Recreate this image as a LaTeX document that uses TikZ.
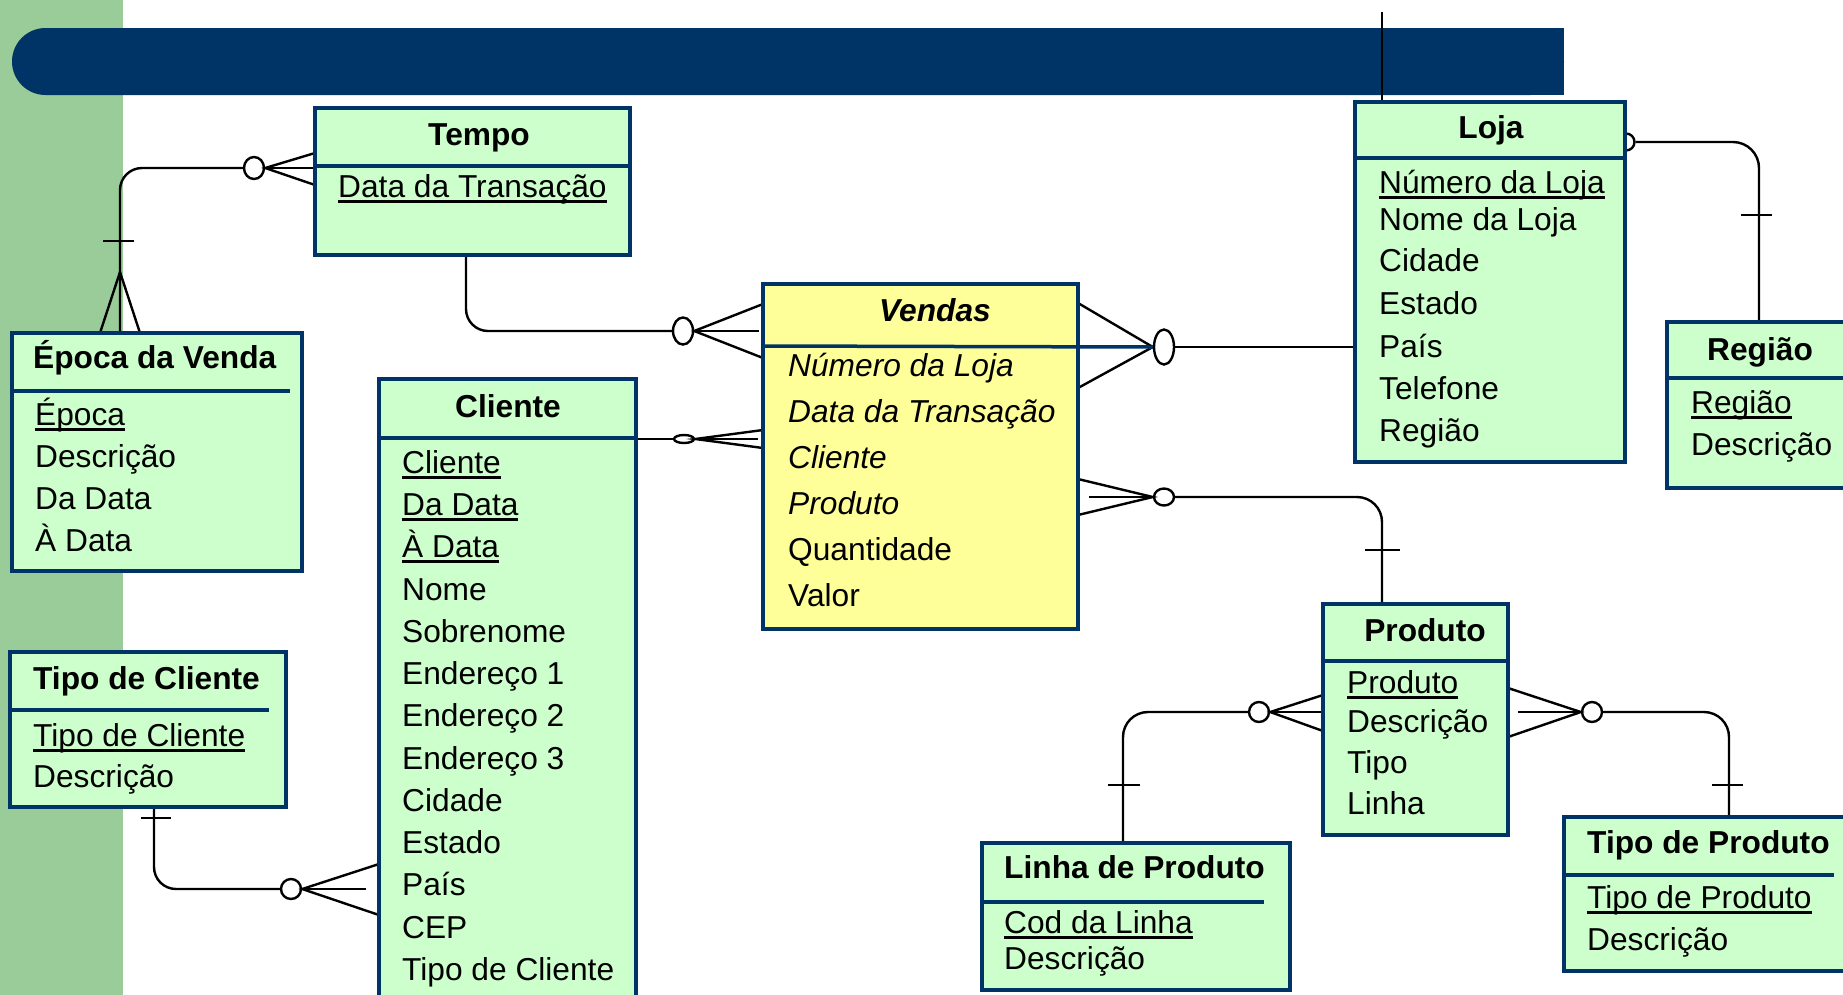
\documentclass[tikz,border=0pt]{standalone}
\usepackage{fontspec}
\setmainfont{Liberation Sans}
\usetikzlibrary{calc,shapes.geometric}

\definecolor{navy}{RGB}{0,51,102}
\definecolor{entgreen}{RGB}{204,255,204}
\definecolor{factyellow}{RGB}{255,255,153}
\definecolor{stripegreen}{RGB}{153,204,153}

\pgfdeclarelayer{backdrop}
\pgfdeclarelayer{links}
\pgfsetlayers{backdrop,links,main}

% key attribute: text with a solid rule just under the baseline
\newlength\keylen
\newcommand\keyattr[1]{\settowidth{\keylen}{#1}\rlap{\rule[-6pt]{\keylen}{3pt}}#1}

\tikzset{
  entity/.style={draw=navy, line width=3.5pt, fill=entgreen, anchor=north west, inner sep=0pt, outer sep=0pt},
  fact/.style={entity, fill=factyellow},
  divider/.style={draw=navy, line width=3.5pt},
  conn/.style={draw=black, line width=2.4pt},
  optmark/.style={ellipse, draw=black, fill=white, line width=2.4pt, inner sep=0pt},
  attr/.style={font=\fontsize{31.7}{38}\selectfont, anchor=base west, inner sep=0pt},
  iattr/.style={attr, font=\fontsize{31.7}{38}\selectfont\itshape},
  ttl/.style={font=\fontsize{31.7}{38}\selectfont\bfseries, anchor=base, inner sep=0pt},
  ttlleft/.style={ttl, anchor=base west},
}

\begin{document}
\begin{tikzpicture}[x=1pt,y=-1pt]
\useasboundingbox (0,0) rectangle (1843,994);

% side stripe and header bar
\begin{pgfonlayer}{backdrop}
\fill[stripegreen] (0,0) rectangle (123,996);
\fill[navy, rounded corners=33.5pt] (12,28) rectangle (1564,95);
\fill[navy] (1400,28) rectangle (1564,95);
\end{pgfonlayer}

% ---------- entity boxes ----------
\path (315,108) node[entity, minimum width=315pt, minimum height=147pt] (tempo) {};
\path (12,333) node[entity, minimum width=290pt, minimum height=238pt] (epoca) {};
\path (10,652) node[entity, minimum width=276pt, minimum height=155pt] (tipocli) {};
\path (379,379) node[entity, minimum width=257pt, minimum height=640pt] (cliente) {};
\path (763,284) node[fact, minimum width=315pt, minimum height=345pt] (vendas) {};
\path (1355,102) node[entity, minimum width=270pt, minimum height=360pt] (loja) {};
\path (1667,322) node[entity, minimum width=200pt, minimum height=166pt] (regiao) {};
\path (1323,604) node[entity, minimum width=185pt, minimum height=231pt] (produto) {};
\path (982,843) node[entity, minimum width=308pt, minimum height=147pt] (linha) {};
\path (1564,817) node[entity, minimum width=300pt, minimum height=154pt] (tipoprod) {};

% ---------- relationships (kept beneath the boxes) ----------
\begin{pgfonlayer}{links}
\node[optmark, minimum width=20pt, minimum height=22pt] (oTE) at (254,168) {};
\node[optmark, minimum width=20pt, minimum height=27pt] (oTV) at (683,331) {};
\node[optmark, minimum width=20pt, minimum height=8pt]  (oCV) at (684,439) {};
\node[optmark, minimum width=20pt, minimum height=20pt] (oTC) at (291,889) {};
\node[optmark, minimum width=20pt, minimum height=35pt] (oVL) at (1164,347) {};
\node[optmark, minimum width=20pt, minimum height=17pt] (oVP) at (1164,497) {};
\node[optmark, minimum width=17pt, minimum height=17pt] (oLR) at (1626,142) {};
\node[optmark, minimum width=20pt, minimum height=20pt] (oPL) at (1259,712) {};
\node[optmark, minimum width=20pt, minimum height=20pt] (oPT) at (1592,712) {};
\coordinate (lojatop) at (1382,12);

% Tempo -- Epoca da Venda
\draw[conn, rounded corners=22pt] (oTE.west) -| (epoca.north -| 120,0);
\draw[conn] (103,241) -- (134,241);
\draw[conn] (epoca.north -| 100,0) -- (120,272) -- (epoca.north -| 140,0);
\draw[conn] (tempo.west |- 0,153) -- (oTE.east) -- (tempo.west |- 0,185);
\draw[conn] (oTE.east) -- (tempo.west |- oTE);

% Tempo -- Vendas
\draw[conn, rounded corners=22pt] (tempo.south -| 466,0) |- (oTV.west);
\draw[conn] (vendas.west |- 0,304) -- (oTV.east) -- (vendas.west |- 0,358);
\draw[conn] (oTV.east) -- (759,331);

% Cliente -- Vendas
\draw[conn] (cliente.east |- oCV) -- (oCV.west);
\draw[conn] (vendas.west |- 0,430) -- (oCV.east) -- (vendas.west |- 0,448);
\draw[conn] (oCV.east) -- (758,439);

% Tipo de Cliente -- Cliente
\draw[conn, rounded corners=22pt] (tipocli.south -| 154,0) |- (oTC.west);
\draw[conn] (141,818) -- (171,818);
\draw[conn] (cliente.west |- 0,864) -- (oTC.east) -- (cliente.west |- 0,915);
\draw[conn] (oTC.east) -- (366,889);

% Vendas -- Loja
\draw[conn] (oVL.east) -- (loja.west |- oVL);
\draw[conn] (vendas.east |- 0,303) -- (oVL.west) -- (vendas.east |- 0,388);

% Vendas -- Produto
\draw[conn] (vendas.east |- 0,479) -- (oVP.west) -- (vendas.east |- 0,515);
\draw[conn] (oVP.west) -- (1089,497);
\draw[conn, rounded corners=25pt] (oVP.east) -| (produto.north -| 1382,0);
\draw[conn] (1365,550) -- (1400,550);

% Loja -- Regiao
\draw[conn, rounded corners=26pt] (oLR.east) -| (regiao.north -| 1759,0);
\draw[conn] (1741,215) -- (1772,215);

% Produto -- Linha de Produto
\draw[conn] (produto.west |- 0,695) -- (oPL.east) -- (produto.west |- 0,731);
\draw[conn] (oPL.east) -- (produto.west |- oPL);
\draw[conn, rounded corners=25pt] (oPL.west) -| (linha.north -| 1123,0);
\draw[conn] (1108,785) -- (1140,785);

% Produto -- Tipo de Produto
\draw[conn] (produto.east |- 0,688) -- (oPT.west) -- (produto.east |- 0,737);
\draw[conn] (oPT.west) -- (1518,712);
\draw[conn, rounded corners=25pt] (oPT.east) -| (tipoprod.north -| 1729,0);
\draw[conn] (1712,785) -- (1743,785);

% line from the Loja box up through the header bar
\draw[line width=2pt] (lojatop) -- (loja.north -| lojatop);
\end{pgfonlayer}

% header / attribute dividers
\draw[divider] (tempo.west |- 0,166) -- (tempo.east |- 0,166);
\draw[divider] (epoca.west |- 0,391) -- (290,391);
\draw[divider] (tipocli.west |- 0,710) -- (269,710);
\draw[divider] (cliente.west |- 0,438) -- (cliente.east |- 0,438);
\draw[divider] (vendas.west |- 0,346) -- (oVL.west);
\draw[divider] (loja.west |- 0,158) -- (loja.east |- 0,158);
\draw[divider] (regiao.west |- 0,378) -- (regiao.east |- 0,378);
\draw[divider] (produto.west |- 0,661) -- (produto.east |- 0,661);
\draw[divider] (linha.west |- 0,902) -- (1264,902);
\draw[divider] (tipoprod.west |- 0,875) -- (1834,875);

% ---------- texts ----------
% Tempo
\node[ttl] (tempoT) at (479,145) {Tempo};
\node[attr] (tempoA) at (338,197) {\keyattr{Data da Transação}};

% Epoca da Venda
\node[ttlleft] (epocaT) at (33,368) {Época da Venda};
\node[attr] (epocaA1) at (35,425) {\keyattr{Época}};
\node[attr] (epocaA2) at (35,467) {Descrição};
\node[attr] (epocaA3) at (35,509) {Da Data};
\node[attr] (epocaA4) at (35,551) {À Data};

% Tipo de Cliente
\node[ttlleft] (tipocliT) at (33,689) {Tipo de Cliente};
\node[attr] (tipocliA1) at (33,746) {\keyattr{Tipo de Cliente}};
\node[attr] (tipocliA2) at (33,787) {Descrição};

% Cliente
\node[ttl] (clienteT) at (508,417) {Cliente};
\node[attr] (cA1) at (402,473) {\keyattr{Cliente}};
\node[attr] (cA2) at (402,515) {\keyattr{Da Data}};
\node[attr] (cA3) at (402,557) {\keyattr{À Data}};
\node[attr] (cA4) at (402,600) {Nome};
\node[attr] (cA5) at (402,642) {Sobrenome};
\node[attr] (cA6) at (402,684) {Endereço 1};
\node[attr] (cA7) at (402,726) {Endereço 2};
\node[attr] (cA8) at (402,769) {Endereço 3};
\node[attr] (cA9) at (402,811) {Cidade};
\node[attr] (cA10) at (402,853) {Estado};
\node[attr] (cA11) at (402,895) {País};
\node[attr] (cA12) at (402,938) {CEP};
\node[attr] (cA13) at (402,980) {Tipo de Cliente};

% Vendas
\node[ttl, font=\fontsize{31.7}{38}\selectfont\bfseries\itshape] (vendasT) at (935,321) {Vendas};
\node[iattr] (vA1) at (788,376) {Número da Loja};
\node[iattr] (vA2) at (788,422) {Data da Transação};
\node[iattr] (vA3) at (788,468) {Cliente};
\node[iattr] (vA4) at (788,514) {Produto};
\node[attr] (vA5) at (788,560) {Quantidade};
\node[attr] (vA6) at (788,606) {Valor};

% Loja
\node[ttl] (lojaT) at (1491,138) {Loja};
\node[attr] (lA1) at (1379,193) {\keyattr{Número da Loja}};
\node[attr] (lA2) at (1379,230) {Nome da Loja};
\node[attr] (lA3) at (1379,271) {Cidade};
\node[attr] (lA4) at (1379,314) {Estado};
\node[attr] (lA5) at (1379,357) {País};
\node[attr] (lA6) at (1379,399) {Telefone};
\node[attr] (lA7) at (1379,441) {Região};

% Regiao
\node[ttl] (regiaoT) at (1760,360) {Região};
\node[attr] (rA1) at (1691,413) {\keyattr{Região}};
\node[attr] (rA2) at (1691,455) {Descrição};

% Produto
\node[ttl] (produtoT) at (1425,641) {Produto};
\node[attr] (pA1) at (1347,693) {\keyattr{Produto}};
\node[attr] (pA2) at (1347,732) {Descrição};
\node[attr] (pA3) at (1347,773) {Tipo};
\node[attr] (pA4) at (1347,814) {Linha};

% Linha de Produto
\node[ttlleft] (linhaT) at (1004,878) {Linha de Produto};
\node[attr] (liA1) at (1004,933) {\keyattr{Cod da Linha}};
\node[attr] (liA2) at (1004,969) {Descrição};

% Tipo de Produto
\node[ttlleft] (tipoprodT) at (1587,853) {Tipo de Produto};
\node[attr] (tpA1) at (1587,908) {\keyattr{Tipo de Produto}};
\node[attr] (tpA2) at (1587,950) {Descrição};
\end{tikzpicture}
\end{document}
